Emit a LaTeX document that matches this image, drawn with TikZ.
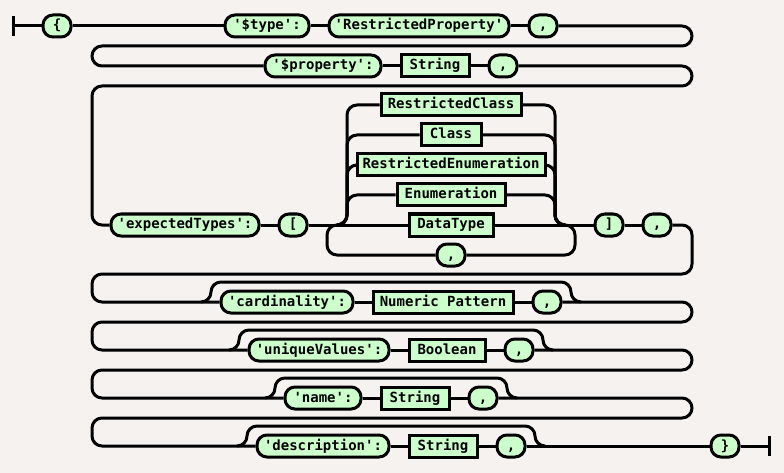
\documentclass[tikz,border=0pt]{standalone}
\usepackage{fontspec}
\setmonofont{DejaVu Sans Mono}
\usepackage{tikz}
\usetikzlibrary{positioning}
\definecolor{railbg}{RGB}{245,242,240}
\definecolor{railfill}{RGB}{204,255,204}

\begin{document}
\begin{tikzpicture}[x=1pt,y=-1pt,line width=3pt,
	term/.style={draw, fill=railfill, rounded corners=10pt, minimum width=#1pt, minimum height=22pt, inner xsep=0pt, inner ysep=0pt, text height=10pt, text depth=2pt, font=\ttfamily\bfseries\fontsize{14}{16}\selectfont},
	box/.style={term=#1, sharp corners},
	rail/.style={rounded corners=10pt}]
	\useasboundingbox (0,0) rectangle (784,473);
	\fill[railbg] (0,0) rectangle (784,473);

	\coordinate (start) at (13.5,26);
	\node[term=28] (lbrace) at (57,26) {\{};
	\node[term=84] (type) at (267,26) {'\$type':};
	\node[term=180] (typeval) at (419,26) {'RestrictedProperty'};
	\node[term=28] (c1) at (543,26) {,};

	\node[term=116] (prop) at (323,66) {'\$property':};
	\node[box=68] (propval) at (435,66) {String};
	\node[term=28] (c2) at (503,66) {,};

	\node[term=148] (exptypes) at (185,225) {'expectedTypes':};
	\node[term=28] (lbrack) at (293,225) {[};
	\coordinate (split) at (337,225);
	\coordinate (merge) at (565,225);
	\node[box=140] (rclass) at (451,105) {RestrictedClass};
	\node[box=60] (class) at (451,135) {Class};
	\node[box=188] (renum) at (451,165) {RestrictedEnumeration};
	\node[box=108] (enum) at (451,195) {Enumeration};
	\node[box=84] (dtype) at (451,225) {DataType};
	\node[term=28] (sep) at (451,255) {,};
	\node[term=28] (rbrack) at (609,225) {]};
	\node[term=28] (c3) at (657,225) {,};

	\coordinate (opt4a) at (201,302);
	\coordinate (opt4b) at (581,302);
	\node[term=132] (card) at (287,302) {'cardinality':};
	\node[box=140] (cardval) at (443,302) {Numeric Pattern};
	\node[term=28] (c4) at (547,302) {,};

	\coordinate (opt5a) at (229,350);
	\coordinate (opt5b) at (553,350);
	\node[term=140] (uniq) at (319,350) {'uniqueValues':};
	\node[box=76] (uniqval) at (447,350) {Boolean};
	\node[term=28] (c5) at (519,350) {,};

	\coordinate (opt6a) at (265,398);
	\coordinate (opt6b) at (517,398);
	\node[term=76] (name) at (323,398) {'name':};
	\node[box=68] (nameval) at (415,398) {String};
	\node[term=28] (c6) at (483,398) {,};

	\coordinate (opt7a) at (237,446);
	\coordinate (opt7b) at (545,446);
	\node[term=132] (desc) at (323,446) {'description':};
	\node[box=68] (descval) at (443,446) {String};
	\node[term=28] (c7) at (511,446) {,};
	\node[term=28] (rbrace) at (725,446) {\}};
	\coordinate (finish) at (769,446);

	\draw (start) ++(0,-10) -- ++(0,20);
	\draw (finish) ++(0,-10) -- ++(0,20);

	\draw[rail] (start) -- (lbrace);
	\draw[rail] (lbrace) -- (type);
	\draw[rail] (type) -- (typeval);
	\draw[rail] (typeval) -- (c1);
	\draw[rail] (c1) -- (692,26) -- (692,46) -- (92,46) -- (92,66) -- (prop);

	\draw[rail] (prop) -- (propval);
	\draw[rail] (propval) -- (c2);
	\draw[rail] (c2) -- (692,66) -- (692,86) -- (92,86) -- (92,225) -- (exptypes);

	\draw[rail] (exptypes) -- (lbrack);
	\draw[rail] (lbrack) -- (split);
	\draw[rail] (split) -- (dtype);
	\draw[rail] (dtype) -- (merge);
	\foreach \b in {rclass,class,renum,enum} {
		\draw[rail] (split) -- ++(10,0) |- (\b);
		\draw[rail] (merge) -- ++(-10,0) |- (\b);
	}
	\draw[rail] (split) -- ++(-10,0) |- (sep);
	\draw[rail] (merge) -- ++(10,0) |- (sep);
	\draw[rail] (merge) -- (rbrack);
	\draw[rail] (rbrack) -- (c3);
	\draw[rail] (c3) -- (692,225) -- (692,274) -- (92,274) -- (92,302) -- (card);

	\draw[rail] (card) -- (cardval);
	\draw[rail] (cardval) -- (c4);
	\draw[rail] (c4) -- (692,302) -- (692,322) -- (92,322) -- (92,350) -- (uniq);

	\draw[rail] (uniq) -- (uniqval);
	\draw[rail] (uniqval) -- (c5);
	\draw[rail] (c5) -- (692,350) -- (692,370) -- (92,370) -- (92,398) -- (name);

	\draw[rail] (name) -- (nameval);
	\draw[rail] (nameval) -- (c6);
	\draw[rail] (c6) -- (692,398) -- (692,418) -- (92,418) -- (92,446) -- (desc);

	\draw[rail] (desc) -- (descval);
	\draw[rail] (descval) -- (c7);
	\draw[rail] (c7) -- (rbrace);
	\draw[rail] (rbrace) -- (finish);

	\foreach \o in {4,5,6,7}
		\draw[rail] (opt\o a) -- ++(10,0) -- ++(0,-20) -| ([xshift=-10pt]opt\o b) -- (opt\o b);
\end{tikzpicture}
\end{document}
